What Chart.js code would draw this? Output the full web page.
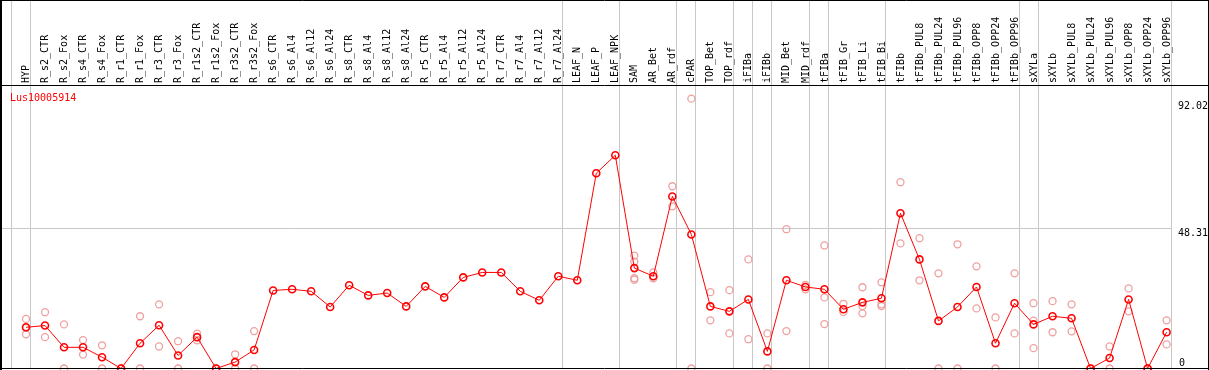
<!DOCTYPE html>
<html>
<head>
<meta charset="utf-8">
<script src="https://cdn.jsdelivr.net/npm/chart.js@4"></script>
<style>
  html, body { margin: 0; padding: 0; background: #fff; }
  canvas { display: block; }
</style>
</head>
<body>
<canvas id="chart" width="1209" height="370"></canvas>
<script>
const geneName = 'Lus10005914';

const categories = [
  'HYP', 'R_s2_CTR', 'R_s2_Fox', 'R_s4_CTR', 'R_s4_Fox', 'R_r1_CTR', 'R_r1_Fox',
  'R_r3_CTR', 'R_r3_Fox', 'R_r1s2_CTR', 'R_r1s2_Fox', 'R_r3s2_CTR', 'R_r3s2_Fox',
  'R_s6_CTR', 'R_s6_Al4', 'R_s6_Al12', 'R_s6_Al24', 'R_s8_CTR', 'R_s8_Al4', 'R_s8_Al12',
  'R_s8_Al24', 'R_r5_CTR', 'R_r5_Al4', 'R_r5_Al12', 'R_r5_Al24', 'R_r7_CTR', 'R_r7_Al4',
  'R_r7_Al12', 'R_r7_Al24', 'LEAF_N', 'LEAF_P', 'LEAF_NPK', 'SAM', 'AR_Bet', 'AR_rdf',
  'cPAR', 'TOP_Bet', 'TOP_rdf', 'iFIBa', 'iFIBb', 'MID_Bet', 'MID_rdf', 'tFIBa',
  'tFIB_Gr', 'tFIB_Li', 'tFIB_Bi', 'tFIBb', 'tFIBb_PUL8', 'tFIBb_PUL24', 'tFIBb_PUL96',
  'tFIBb_OPP8', 'tFIBb_OPP24', 'tFIBb_OPP96', 'sXYLa', 'sXYLb', 'sXYLb_PUL8',
  'sXYLb_PUL24', 'sXYLb_PUL96', 'sXYLb_OPP8', 'sXYLb_OPP24', 'sXYLb_OPP96'
];

// mean expression per sample
const means = [
  14.2, 14.8, 7.3, 7.3, 3.9, 0, 8.7, 14.9, 4.5, 10.8, 0, 2.2, 6.4,
  26.9, 27.3, 26.6, 21.2, 28.7, 25.2, 26.0, 21.4,
  28.3, 24.5, 31.4, 33.1, 33.1, 26.6, 23.5, 31.8,
  30.4, 67.3, 73.5,
  34.6, 31.8, 59.3, 46.2,
  21.4, 19.7, 23.8, 5.9, 30.4, 28.1,
  27.3, 20.4, 22.8, 24.2,
  53.5, 37.6, 16.4, 21.2, 28.1, 8.7, 22.5,
  15.2, 18.0, 17.3, 0, 3.6, 23.8, 0, 12.5
];

// individual replicates per sample
const replicates = [
  [17.1, 14.0, 11.8], [19.4, 10.8], [15.2, 0], [9.8, 4.8], [8.0, 0], [0, 0],
  [18.0, 0], [22.1, 7.6], [9.4, 0], [12.0, 9.7], [0, 0], [4.9, 0], [12.9, 0],
  [], [], [], [], [], [], [], [], [], [], [], [], [], [], [], [], [], [], [],
  [38.9, 36.8, 31.1, 30.6], [33.1, 31.1], [62.8, 55.9], [93.0, 0],
  [26.3, 16.6], [27.0, 12.1], [37.6, 10.1], [12.1, 0], [48.0, 12.9], [28.8, 27.3],
  [42.4, 24.5, 15.3], [22.3, 19.5], [28.0, 21.5, 19.0], [29.7, 22.1, 21.5],
  [64.2, 43.1], [44.9, 30.4], [32.8, 0], [42.8, 0], [35.2, 20.7], [17.6, 0], [32.8, 12.1],
  [22.5, 16.5, 7.0], [23.2, 12.5], [22.1, 12.8], [0, 0], [7.6, 0], [27.6, 19.7], [0, 0],
  [16.6, 8.3]
];

const yTicks = [0, 48.31, 92.02];

// last sample index of each group (separators drawn after them)
const groupEnds = [0, 28, 31, 34, 35, 37, 38, 39, 41, 42, 45, 52, 53, 60];

const monoFont = 'DejaVu Sans Mono';
const gridGrey = '#c8c8c8';

const meanPoints = means.map((v, i) => ({ x: i, y: v }));
const repPoints = [];
replicates.forEach((reps, i) => reps.forEach(v => repPoints.push({ x: i, y: v })));

const framePlugin = {
  id: 'frame',
  beforeDatasetsDraw(chart) {
    const c = chart.ctx;
    const xs = chart.scales.x;
    c.save();
    c.strokeStyle = gridGrey;
    c.lineWidth = 1;
    const seps = [-0.8].concat(groupEnds.map(i => i + 0.21));
    seps.forEach(v => {
      const px = Math.round(xs.getPixelForValue(v)) + 0.5;
      c.beginPath();
      c.moveTo(px, 0);
      c.lineTo(px, 369);
      c.stroke();
    });
    c.fillStyle = '#ff0000';
    c.font = '10px "' + monoFont + '"';
    c.textBaseline = 'top';
    c.fillText(geneName, 10, 93.5);
    c.restore();
  },
  afterDraw(chart) {
    const c = chart.ctx;
    const ys = chart.scales.y;
    const w = chart.width;
    c.save();
    c.strokeStyle = '#000';
    c.lineWidth = 1;
    c.beginPath();
    c.moveTo(0, 0.5); c.lineTo(w, 0.5);
    c.moveTo(0, 85.5); c.lineTo(w, 85.5);
    c.moveTo(0, 368.5); c.lineTo(w, 368.5);
    c.moveTo(w - 0.5, 0); c.lineTo(w - 0.5, 370);
    c.stroke();
    c.lineWidth = 2;
    c.beginPath();
    c.moveTo(1, 0); c.lineTo(1, 370);
    c.stroke();

    c.fillStyle = '#000';
    c.font = '10px "' + monoFont + '"';
    c.textAlign = 'left';
    yTicks.forEach(v => {
      const py = ys.getPixelForValue(v);
      const label = v === 0 ? '0' : v.toFixed(2);
      if (v === 0) {
        c.textBaseline = 'alphabetic';
        c.fillText(label, 1179, py - 3);
      } else {
        c.textBaseline = 'top';
        c.fillText(label, 1178, py);
      }
    });
    c.restore();
  }
};

const ctx = document.getElementById('chart').getContext('2d');
const chart = new Chart(ctx, {
  type: 'line',
  data: {
    datasets: [
      {
        label: 'mean',
        data: meanPoints,
        borderColor: '#ff0000',
        borderWidth: 1,
        tension: 0,
        pointRadius: 3.5,
        pointBorderWidth: 1.6,
        pointBorderColor: '#ff0000',
        pointBackgroundColor: 'rgba(0,0,0,0)',
        clip: false
      },
      {
        label: 'replicates',
        type: 'scatter',
        data: repPoints,
        showLine: false,
        pointRadius: 3.5,
        pointBorderWidth: 1.3,
        pointBorderColor: '#eea0a0',
        pointBackgroundColor: 'rgba(0,0,0,0)',
        clip: false
      }
    ]
  },
  options: {
    responsive: false,
    animation: false,
    layout: { autoPadding: false, padding: { left: 1, right: 0, top: 0, bottom: 1.5 } },
    plugins: {
      legend: { display: false },
      tooltip: { enabled: false }
    },
    scales: {
      x: {
        type: 'linear',
        position: 'top',
        min: -1.315,
        max: 60.205,
        grid: { display: false, drawTicks: false },
        border: { display: false },
        afterBuildTicks: s => { s.ticks = categories.map((c, i) => ({ value: i })); },
        afterFit: s => { s.height = 85; s.paddingLeft = 0; s.paddingRight = 0; },
        ticks: {
          autoSkip: false,
          minRotation: 90,
          maxRotation: 90,
          padding: 2,
          labelOffset: 12.5,
          color: '#000',
          font: { family: monoFont, size: 10 },
          callback: v => categories[v]
        }
      },
      y: {
        position: 'right',
        min: 0,
        max: 97.7,
        afterBuildTicks: s => { s.ticks = yTicks.map(v => ({ value: v })); },
        afterFit: s => { s.width = 38.5; s.paddingTop = 0; s.paddingBottom = 0; },
        ticks: { display: false },
        border: { display: false },
        grid: {
          drawTicks: false,
          color: c => (c.tick && c.tick.value === 48.31) ? gridGrey : 'rgba(0,0,0,0)'
        }
      }
    }
  },
  plugins: [framePlugin]
});
</script>
</body>
</html>
